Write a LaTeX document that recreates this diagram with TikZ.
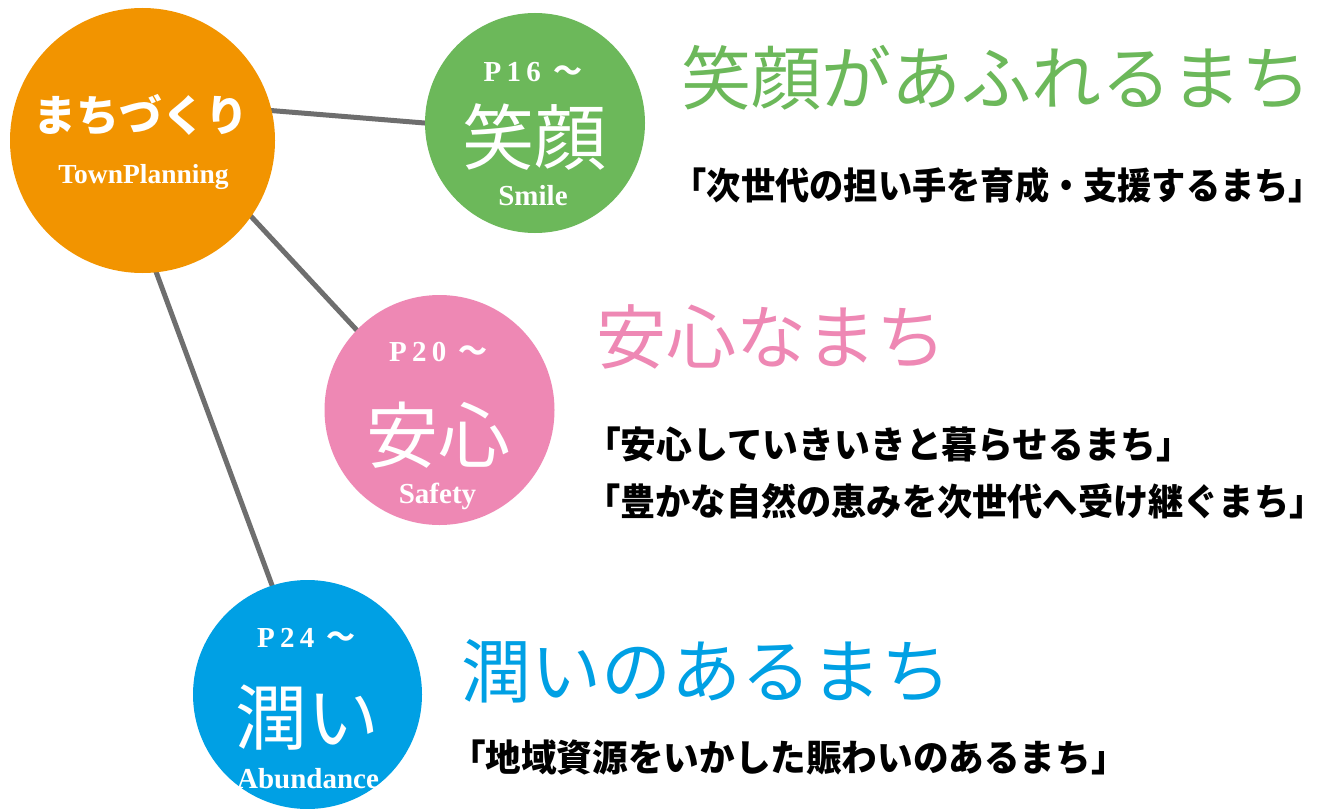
\documentclass[tikz,border=0pt]{standalone}
\usepackage{fontspec}
\usepackage{graphicx}
\usetikzlibrary{backgrounds}
\newfontfamily\jp{Noto Sans CJK JP}
\newfontfamily\lser{Liberation Serif}
\definecolor{corange}{HTML}{F29400}
\definecolor{cgreen}{HTML}{6CB85A}
\definecolor{cpink}{HTML}{EE88B4}
\definecolor{cblue}{HTML}{00A0E4}
\definecolor{linegray}{HTML}{6E6E6E}
\newcommand{\lbr}{\mbox{\kern-0.43em「}}
\newcommand{\rbr}{\mbox{」\kern-0.46em}}
\newcommand{\wavetilde}{{\jp\bfseries 〜}}
\begin{document}
\begin{tikzpicture}[x=0.5pt,y=-0.5pt,
  hub/.style={circle, inner sep=0pt, draw=none},
  link/.style={line width=2.5pt, draw=linegray},
  bigkana/.style={text=white, inner sep=0pt, font=\jp\fontsize{36pt}{36pt}\selectfont},
  pagelbl/.style={text=white, inner sep=0pt, anchor=base, font=\lser\bfseries\fontsize{14.5pt}{14.5pt}\selectfont\addfontfeature{LetterSpace=18}},
  enlbl/.style={text=white, inner sep=0pt, anchor=base, font=\lser\bfseries\fontsize{14.5pt}{14.5pt}\selectfont},
  heading/.style={anchor=west, inner sep=0pt, font=\jp\fontsize{35pt}{35pt}\selectfont},
  subline/.style={anchor=west, inner sep=0pt, text=black, font=\jp\bfseries\fontsize{18.5pt}{18.5pt}\selectfont}
]
\useasboundingbox (0,0) rectangle (1326,808);

% circles
\node[hub, fill=corange, minimum size=132.5pt] (town) at (142.5,140.5) {};
\node[hub, fill=cgreen, minimum size=110pt] (smile) at (535,123) {};
\node[hub, fill=cpink, minimum size=115pt] (safety) at (439.5,410) {};
\node[hub, fill=cblue, minimum size=114.5pt] (abund) at (307.5,694.5) {};

% connectors
\begin{scope}[on background layer]
\fill[white] (0,0) rectangle (1326,808);
\draw[link, shorten <=-4pt, shorten >=-4pt] (town.13) -- (smile.180);
\draw[link, shorten <=-4pt, shorten >=-4pt] (town.-35.4) -- (safety.136.6);
\draw[link, shorten <=-4pt, shorten >=-4pt] (town.-84.6) -- (abund.108.8);
\end{scope}

% hub texts
\node[text=white, inner sep=0pt, font=\jp\bfseries\fontsize{21.5pt}{21.5pt}\selectfont] (townjp) at (141,115) {まちづくり};
\node[enlbl, font=\lser\bfseries\fontsize{13.75pt}{13.75pt}\selectfont] (townen) at (143.5,183) {TownPlanning};

\node[pagelbl] (p16) at (533,82) {P16 \wavetilde};
\node[bigkana] (smilejp) at (534,137) {笑顔};
\node[enlbl] (smileen) at (533,205) {Smile};

\node[pagelbl] (p20) at (438.5,361) {P20 \wavetilde};
\node[bigkana] (safetyjp) at (438,435) {安心};
\node[enlbl] (safetyen) at (437.5,503) {Safety};

\node[pagelbl] (p24) at (306.5,647) {P24 \wavetilde};
\node[bigkana] (abundjp) at (307,718) {潤い};
\node[enlbl] (abunden) at (308,788) {Abundance};

% headings
\node[heading, text=cgreen] (h1) at (681,77.5) {笑顔があふれるまち};
\node[heading, text=cpink] (h2) at (596,337) {安心なまち};
\node[heading, text=cblue] (h3) at (461,671) {潤いのあるまち};

% sub lines
\node[subline] (s1) at (687,185) {\resizebox{310pt}{\height}{\lbr 次世代の担い手を育成・支援するまち\rbr}};
\node[subline] (s2) at (600,444) {\resizebox{287.5pt}{\height}{\lbr 安心していきいきと暮らせるまち\rbr}};
\node[subline] (s3) at (600,501) {\resizebox{354pt}{\height}{\lbr 豊かな自然の恵みを次世代へ受け継ぐまち\rbr}};
\node[subline] (s4) at (465,757) {\resizebox{322.5pt}{\height}{\lbr 地域資源をいかした賑わいのあるまち\rbr}};
\end{tikzpicture}
\end{document}
